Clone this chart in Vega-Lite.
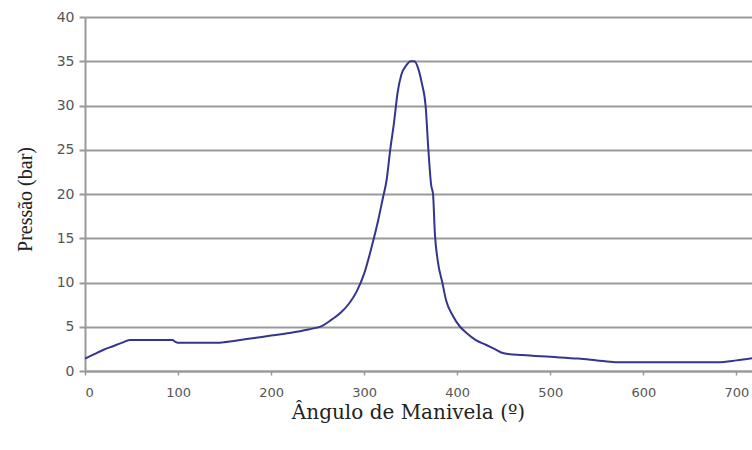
{
  "$schema": "https://vega.github.io/schema/vega-lite/v6.json",
  "autosize": "none",
  "width": 670,
  "height": 354,
  "padding": {"left": 85, "top": 17, "right": 0, "bottom": 79},
  "background": "white",
  "config": {"view": {"stroke": null}},
  "data": {"values": [
    {"angulo": 0, "pressao": 1.4},
    {"angulo": 10, "pressao": 1.9},
    {"angulo": 20, "pressao": 2.4},
    {"angulo": 30, "pressao": 2.8},
    {"angulo": 40, "pressao": 3.2},
    {"angulo": 48, "pressao": 3.5},
    {"angulo": 60, "pressao": 3.5},
    {"angulo": 80, "pressao": 3.5},
    {"angulo": 94, "pressao": 3.5},
    {"angulo": 97, "pressao": 3.3},
    {"angulo": 100, "pressao": 3.2},
    {"angulo": 120, "pressao": 3.2},
    {"angulo": 145, "pressao": 3.2},
    {"angulo": 160, "pressao": 3.4},
    {"angulo": 180, "pressao": 3.7},
    {"angulo": 200, "pressao": 4.0},
    {"angulo": 220, "pressao": 4.3},
    {"angulo": 240, "pressao": 4.7},
    {"angulo": 255, "pressao": 5.1},
    {"angulo": 265, "pressao": 5.8},
    {"angulo": 275, "pressao": 6.6},
    {"angulo": 285, "pressao": 7.8},
    {"angulo": 292, "pressao": 9.0},
    {"angulo": 300, "pressao": 11.0},
    {"angulo": 308, "pressao": 14.0},
    {"angulo": 315, "pressao": 17.0},
    {"angulo": 320, "pressao": 19.5},
    {"angulo": 324, "pressao": 21.5},
    {"angulo": 328, "pressao": 25.0},
    {"angulo": 332, "pressao": 28.0},
    {"angulo": 336, "pressao": 31.5},
    {"angulo": 340, "pressao": 33.5},
    {"angulo": 345, "pressao": 34.5},
    {"angulo": 350, "pressao": 35.0},
    {"angulo": 354, "pressao": 35.0},
    {"angulo": 358, "pressao": 34.2},
    {"angulo": 362, "pressao": 32.5},
    {"angulo": 366, "pressao": 30.0},
    {"angulo": 369, "pressao": 25.0},
    {"angulo": 372, "pressao": 21.0},
    {"angulo": 374, "pressao": 20.0},
    {"angulo": 376, "pressao": 15.5},
    {"angulo": 379, "pressao": 12.5},
    {"angulo": 384, "pressao": 10.0},
    {"angulo": 388, "pressao": 8.0},
    {"angulo": 395, "pressao": 6.3},
    {"angulo": 403, "pressao": 5.0},
    {"angulo": 410, "pressao": 4.3},
    {"angulo": 420, "pressao": 3.5},
    {"angulo": 430, "pressao": 3.0},
    {"angulo": 440, "pressao": 2.5},
    {"angulo": 450, "pressao": 2.0},
    {"angulo": 470, "pressao": 1.8},
    {"angulo": 500, "pressao": 1.6},
    {"angulo": 530, "pressao": 1.4},
    {"angulo": 550, "pressao": 1.2},
    {"angulo": 570, "pressao": 1.0},
    {"angulo": 600, "pressao": 1.0},
    {"angulo": 650, "pressao": 1.0},
    {"angulo": 680, "pressao": 1.0},
    {"angulo": 700, "pressao": 1.2},
    {"angulo": 720, "pressao": 1.5}
  ]},
  "mark": {"type": "line", "color": "#35358f", "strokeWidth": 2, "interpolate": "monotone", "clip": true},
  "encoding": {
    "x": {
      "field": "angulo", "type": "quantitative",
      "scale": {"domain": [0, 720], "nice": false, "zero": false},
      "axis": {
        "title": "Ângulo de Manivela (º)",
        "values": [0, 100, 200, 300, 400, 500, 600, 700],
        "grid": false,
        "domainColor": "#999999", "domainWidth": 2,
        "tickColor": "#999999", "tickSize": 4, "tickWidth": 1.5,
        "labelFont": "DejaVu Sans", "labelFontSize": 13, "labelColor": "#555555", "labelPadding": 11,
        "titleFont": "DejaVu Serif", "titleFontSize": 20, "titleFontWeight": "normal", "titleColor": "#222222",
        "titlePadding": 3, "titleX": 323, "titleAlign": "center"
      }
    },
    "y": {
      "field": "pressao", "type": "quantitative",
      "scale": {"domain": [0, 40], "nice": false},
      "axis": {
        "title": "Pressão (bar)",
        "values": [0, 5, 10, 15, 20, 25, 30, 35, 40],
        "grid": true, "gridColor": "#9a9a9a", "gridWidth": 2,
        "domainColor": "#999999", "domainWidth": 2,
        "tickColor": "#999999", "tickSize": 6, "tickWidth": 2,
        "labelFont": "DejaVu Sans", "labelFontSize": 14, "labelColor": "#555555", "labelPadding": 5,
        "titleFont": "Liberation Serif", "titleFontSize": 20, "titleFontWeight": "normal", "titleColor": "#222222",
        "titleX": -60, "titleY": 182, "titleBaseline": "middle", "titleAlign": "center", "titleAngle": -90
      }
    }
  }
}
